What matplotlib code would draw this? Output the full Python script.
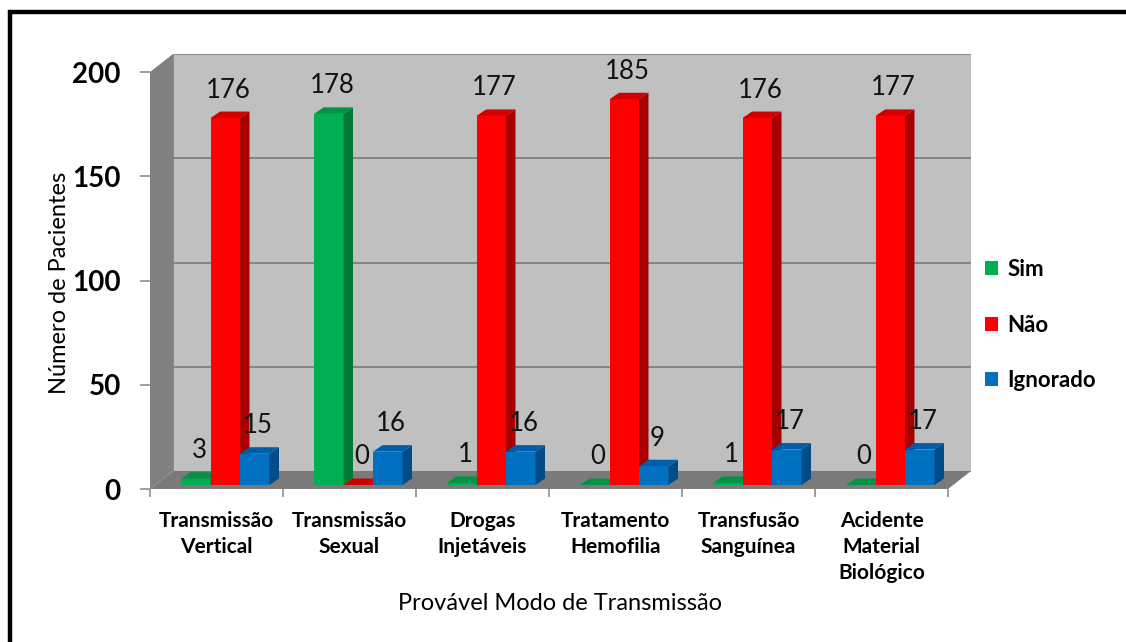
import matplotlib

matplotlib.use("Agg")

import matplotlib.pyplot as plt
from matplotlib.patches import Patch, Polygon, Rectangle


categories = [
    "Transmissão\nVertical",
    "Transmissão\nSexual",
    "Drogas\nInjetáveis",
    "Tratamento\nHemofilia",
    "Transfusão\nSanguínea",
    "Acidente\nMaterial\nBiológico",
]
series_names = ["Sim", "Não", "Ignorado"]
sim = [3, 178, 1, 0, 1, 0]
nao = [176, 0, 177, 185, 176, 177]
ignorado = [15, 16, 16, 9, 17, 17]
y_ticks = [0, 50, 100, 150, 200]

FRONT = ["#00B050", "#FF0000", "#0070C0"]
TOP = ["#009444", "#D00000", "#005EA8"]
SIDE = ["#007A38", "#A80000", "#004C88"]

W, H, DPI = 1126, 642, 100
PX_CAT = 133.0      # pixels per category
PX_UNIT = 2.085     # pixels per value unit
ORIGIN_X, ORIGIN_Y = 150, 489  # front-left corner of the floor, in image pixels

WALL_DX, WALL_DY = 23 / PX_CAT, 18 / PX_UNIT
BAR_W = 29.5 / PX_CAT
BAR_START = 31 / PX_CAT          # gap from category edge to first bar
BAR_LIFT = 4 / PX_UNIT           # bars sit a bit back into the floor
BAR_DX, BAR_DY = 9.5 / PX_CAT, 6.5 / PX_UNIT
LABEL_GAP = 14 / PX_UNIT

FONT = "Lato"

fig = plt.figure(figsize=(W / DPI, H / DPI), dpi=DPI)

n = len(categories)
x_min, x_max = -0.5, n - 0.5 + WALL_DX
y_max = y_ticks[-1] + WALL_DY
ax_w = (x_max - x_min) * PX_CAT
ax_h = y_max * PX_UNIT
ax = fig.add_axes([ORIGIN_X / W, (H - ORIGIN_Y) / H, ax_w / W, ax_h / H])
ax.set_xlim(x_min, x_max)
ax.set_ylim(0, y_max)
for spine in ax.spines.values():
    spine.set_visible(False)
ax.patch.set_alpha(0)

# box: back wall, side wall, floor
top = y_ticks[-1]
ax.add_patch(Polygon([(x_min + WALL_DX, WALL_DY), (x_max, WALL_DY), (x_max, top + WALL_DY),
                      (x_min + WALL_DX, top + WALL_DY)], closed=True,
                     facecolor="#C0C0C0", edgecolor="#8C8C8C", lw=0.8, zorder=1))
ax.add_patch(Polygon([(x_min, 0), (x_min + WALL_DX, WALL_DY), (x_min + WALL_DX, top + WALL_DY),
                      (x_min, top)], closed=True, facecolor="#808080", edgecolor="none", zorder=1))
ax.add_patch(Polygon([(x_min, 0), (n - 0.5, 0), (x_max, WALL_DY), (x_min + WALL_DX, WALL_DY)],
                     closed=True, facecolor="#7A7A7A", edgecolor="none", zorder=1))
for t in y_ticks[1:-1]:
    ax.plot([x_min + WALL_DX, x_max], [t + WALL_DY, t + WALL_DY], color="#7F7F7F", lw=1.3, zorder=2)
ax.plot([x_min, n - 0.5], [0, 0], color="#8C8C8C", lw=1, zorder=2)

# 3D-looking bars
values = [sim, nao, ignorado]
for i in range(n):
    for s, vals in enumerate(values):
        v = vals[i]
        x0 = i - 0.5 + BAR_START + s * BAR_W
        x1 = x0 + BAR_W
        y0 = BAR_LIFT
        y1 = BAR_LIFT + v
        ax.add_patch(Rectangle((x0, y0), BAR_W, v, facecolor=FRONT[s], edgecolor="none", zorder=3))
        ax.add_patch(Polygon([(x1, y0), (x1 + BAR_DX, y0 + BAR_DY), (x1 + BAR_DX, y1 + BAR_DY), (x1, y1)],
                             closed=True, facecolor=SIDE[s], edgecolor="none", zorder=3))
        ax.add_patch(Polygon([(x0, y1), (x1, y1), (x1 + BAR_DX, y1 + BAR_DY), (x0 + BAR_DX, y1 + BAR_DY)],
                             closed=True, facecolor=TOP[s], edgecolor="none", zorder=3))
        ax.text((x0 + x1) / 2 + BAR_DX / 3, y1 + BAR_DY + LABEL_GAP, str(v), ha="center", va="baseline",
                fontsize=18.5, family=FONT, color="#111111", zorder=5)

# axes ticks and labels
ax.set_yticks(y_ticks)
ax.set_yticklabels([str(t) for t in y_ticks], fontsize=20, family=FONT, fontweight="bold")
ax.tick_params(axis="y", length=7, width=1.2, color="#8C8C8C", pad=14)
ax.set_xticks(range(n))
ax.set_xticklabels(categories, fontsize=15, family=FONT, fontweight="bold", linespacing=1.38)
ax.tick_params(axis="x", which="major", length=0, pad=16)
ax.set_xticks([i - 0.5 for i in range(n + 1)], minor=True)
ax.tick_params(axis="x", which="minor", length=6, width=1.2, color="#8C8C8C")

fig.text(60 / W, 1 - 283 / H, "Número de Pacientes", rotation=90, ha="center", va="center",
         fontsize=17, family=FONT)
fig.text(560 / W, 1 - 604 / H, "Provável Modo de Transmissão", ha="center", va="center",
         fontsize=17, family=FONT)

handles = [Patch(facecolor=c, edgecolor="none") for c in FRONT]
fig.legend(handles, series_names, loc="center left", bbox_to_anchor=(965 / W, 1 - 325 / H),
           frameon=False, handlelength=0.6, handleheight=0.6, handletextpad=0.4,
           labelspacing=1.55, prop={"family": FONT, "size": 16, "weight": "bold"})

# outer black frame (only left and top edges fall inside the image)
fig.patches.append(Rectangle((10 / W, -0.2), 1.3, 1.2 - 12 / H, transform=fig.transFigure,
                             fill=False, edgecolor="black", lw=3.2))

fig.savefig("out.png", dpi=DPI)
